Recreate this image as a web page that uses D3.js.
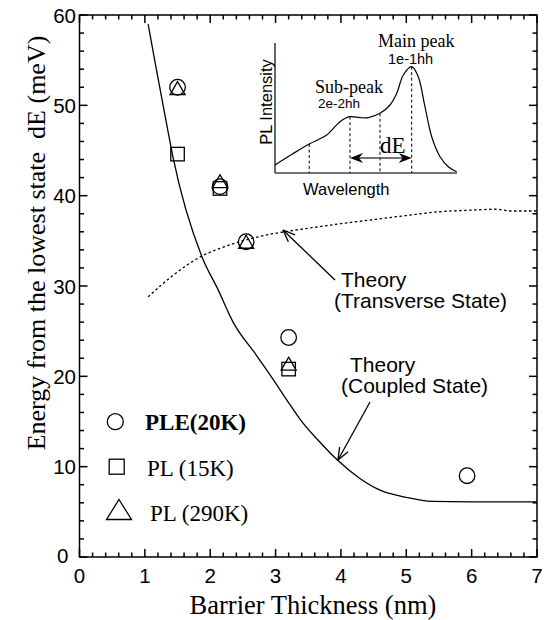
<!DOCTYPE html>
<html><head><meta charset="utf-8">
<script src="https://cdn.jsdelivr.net/npm/d3@7"></script>
<style>body{margin:0;background:#fff}svg{display:block}</style>
</head><body>
<svg id="c" width="547" height="620"></svg>
<script>
// ---- data ----
const xTicks=[0,1,2,3,4,5,6,7];
const yTicks=[0,10,20,30,40,50,60];
const pleX=[1.5,2.15,2.55,3.2,5.93];
const pleY=[52.0,41.0,34.9,24.3,9.0];
const pl15X=[1.5,2.15,3.2];
const pl15Y=[44.6,40.8,20.8];
const pl290X=[1.5,2.15,2.55,3.2];
const pl290Y=[51.9,41.6,34.9,21.4];
const coupledX=[1.05,1.15,1.36,1.43,1.87,2.12,2.35,2.71,2.96,3.17,3.37,3.68,3.95,4.29,4.6,5.0,5.4,6.0,7.0];
const coupledY=[59,55.0,46.9,44.3,33.3,29.6,26.0,22.3,19.7,17.4,15.3,12.7,10.7,8.7,7.4,6.6,6.15,6.1,6.1];
const transX=[1.05,1.4,1.87,2.2,2.5,2.9,3.14,3.6,4.0,4.44,5.0,5.47,6.0,6.38,6.6,7.0];
const transY=[28.8,31.0,33.3,34.3,35.0,35.7,36.0,36.5,36.9,37.3,37.8,38.2,38.4,38.5,38.3,38.3];
// inset spectrum (arbitrary units 0-100)
const specX=[0,10,18.8,28.4,35.7,41.2,46.7,51.3,57.7,63.2,66.9,70.5,75.1,78.7,82.4,86.1,90.7,95.2,99.8];
const specY=[6.2,15,22.3,29.2,39.5,43.3,42.6,42.6,45.9,52.3,61.3,75.4,81.8,74.1,51.0,27.9,12.5,4.8,1];
const markX=[18.8,41.2,57.7,75.1];
const markY=[22.3,43.3,45.9,81.8];
const legendLabels=["PLE(20K)","PL (15K)","PL (290K)"];

const SANS='"Liberation Sans", Arial, sans-serif';
const SERIF='"Liberation Serif", "Times New Roman", serif';
const svg=d3.select("#c");
const L=79.5,R=537,T=15,B=557;
const x=d3.scaleLinear([0,7],[L,R]);
const y=d3.scaleLinear([0,60],[B,T]);
const minorX=d3.range(1,35).filter(i=>i%5!==0).map(i=>i*0.2);
const minorY=d3.range(1,30).filter(i=>i%5!==0).map(i=>i*2);

// frame
svg.append("rect").attr("x",L).attr("y",T).attr("width",R-L).attr("height",B-T).attr("fill","none").attr("stroke","#000").attr("stroke-width",1.5);
// ticks (inward on all four sides), drawn as rects
const tg=svg.append("g").attr("fill","#000");
function xt(vals,len){vals.forEach(v=>{const p=x(v)-0.75;
  tg.append("rect").attr("x",p).attr("y",B-len).attr("width",1.5).attr("height",len);
  tg.append("rect").attr("x",p).attr("y",T).attr("width",1.5).attr("height",len);});}
function yt(vals,len){vals.forEach(v=>{const p=y(v)-0.75;
  tg.append("rect").attr("x",L).attr("y",p).attr("width",len).attr("height",1.5);
  tg.append("rect").attr("x",R-len).attr("y",p).attr("width",len).attr("height",1.5);});}
xt(xTicks,8); xt(minorX,4.5); yt(yTicks,8); yt(minorY,4.5);
// tick labels
svg.append("g").selectAll("text").data(xTicks).join("text").attr("x",d=>x(d)).attr("y",583).attr("text-anchor","middle")
  .attr("font-family",SANS).attr("font-size",20.5).text(d=>d);
svg.append("g").selectAll("text").data(yTicks).join("text")
  .attr("x",d=>d===0?68.5:76).attr("y",d=>d===0?562.5:y(d)+7.5).attr("text-anchor","end")
  .attr("font-family",SANS).attr("font-size",20.5).text(d=>d);

// axis titles
svg.append("text").attr("x",313).attr("y",614).attr("text-anchor","middle").attr("font-family",SERIF).attr("font-size",26.5).text("Barrier Thickness (nm)");
svg.append("text").attr("transform","translate(45,243) rotate(-90)").attr("text-anchor","middle").attr("font-family",SERIF).attr("font-size",26)
  .style("white-space","pre").text("Energy from the lowest state  dE (meV)");

// theory curves
const line=d3.line().x(d=>x(d[0])).y(d=>y(d[1])).curve(d3.curveMonotoneX);
svg.append("path").attr("d",line(d3.zip(coupledX,coupledY))).attr("fill","none").attr("stroke","#000").attr("stroke-width",1.3);
svg.append("path").attr("d",line(d3.zip(transX,transY))).attr("fill","none").attr("stroke","#000").attr("stroke-width",1.3).attr("stroke-dasharray","2.5,2.5");

// markers
function circ(g,cx,cy,r){g.append("circle").attr("cx",cx).attr("cy",cy).attr("r",r).attr("fill","none").attr("stroke","#000").attr("stroke-width",1.3);}
function sq(g,cx,cy,s){g.append("rect").attr("x",cx-s/2).attr("y",cy-s/2).attr("width",s).attr("height",s).attr("fill","none").attr("stroke","#000").attr("stroke-width",1.3);}
function tri(g,cx,cy,w,h){g.append("path").attr("d",`M${cx},${cy-h/2}L${cx+w/2},${cy+h/2}L${cx-w/2},${cy+h/2}Z`).attr("fill","none").attr("stroke","#000").attr("stroke-width",1.3);}
const mk=svg.append("g");
pleX.forEach((v,i)=>circ(mk,x(v),y(pleY[i]),7.8));
pl15X.forEach((v,i)=>sq(mk,x(v),y(pl15Y[i]),13.5));
pl290X.forEach((v,i)=>tri(mk,x(v),y(pl290Y[i]),15,13));

// legend
circ(svg,115.3,421.7,8);
sq(svg,116.7,466.7,15);
tri(svg,119,509.5,25,20);
svg.append("text").attr("x",145).attr("y",430).attr("font-family",SERIF).attr("font-weight","bold").attr("font-size",23).text(legendLabels[0]);
svg.append("text").attr("x",147).attr("y",476).attr("font-family",SERIF).attr("font-size",23).text(legendLabels[1]);
svg.append("text").attr("x",150).attr("y",521).attr("font-family",SERIF).attr("font-size",23).text(legendLabels[2]);

// annotation arrows (open heads)
function openArrow(x1,y1,x2,y2){
  const a=Math.atan2(y2-y1,x2-x1), len=13, sp=0.38;
  svg.append("line").attr("x1",x1).attr("y1",y1).attr("x2",x2).attr("y2",y2).attr("stroke","#000").attr("stroke-width",1.3);
  [a+Math.PI-sp,a+Math.PI+sp].forEach(b=>svg.append("line").attr("x1",x2).attr("y1",y2)
    .attr("x2",x2+len*Math.cos(b)).attr("y2",y2+len*Math.sin(b)).attr("stroke","#000").attr("stroke-width",1.3));
}
openArrow(335,280,283,230);
openArrow(370,402,338,460);
svg.append("text").attr("x",341).attr("y",287).attr("font-family",SANS).attr("font-size",21).text("Theory");
svg.append("text").attr("x",334).attr("y",308).attr("font-family",SANS).attr("font-size",21).text("(Transverse State)");
svg.append("text").attr("x",350).attr("y",372).attr("font-family",SANS).attr("font-size",21).text("Theory");
svg.append("text").attr("x",341).attr("y",393).attr("font-family",SANS).attr("font-size",21).text("(Coupled State)");

// ---- inset ----
const ix=d3.scaleLinear([0,100],[275,457]);
const iy=d3.scaleLinear([0,100],[173,43]);
svg.append("line").attr("x1",ix(0)).attr("y1",iy(100)).attr("x2",ix(0)).attr("y2",iy(0)).attr("stroke","#000").attr("stroke-width",1.2);
svg.append("line").attr("x1",ix(0)).attr("y1",iy(0)).attr("x2",ix(100)).attr("y2",iy(0)).attr("stroke","#444").attr("stroke-width",1.6);
const iline=d3.line().x(d=>ix(d[0])).y(d=>iy(d[1])).curve(d3.curveCatmullRom.alpha(0.5));
svg.append("path").attr("d",iline(d3.zip(specX,specY))).attr("fill","none").attr("stroke","#000").attr("stroke-width",1.2);
markX.forEach((v,i)=>svg.append("line").attr("x1",ix(v)).attr("x2",ix(v)).attr("y1",iy(markY[i])).attr("y2",iy(0))
  .attr("stroke","#000").attr("stroke-width",1).attr("stroke-dasharray","3,2.5"));
// dE double arrow
const ay=158, ax1=ix(markX[1]), ax2=ix(markX[3]);
svg.append("line").attr("x1",ax1+6).attr("x2",ax2-6).attr("y1",ay).attr("y2",ay).attr("stroke","#444").attr("stroke-width",1.5);
function head(tx,dir){svg.append("path").attr("d",`M${tx},${ay}L${tx+dir*13},${ay-5}L${tx+dir*9},${ay}L${tx+dir*13},${ay+5}Z`).attr("fill","#000");}
head(ax1,1); head(ax2,-1);
svg.append("text").attr("x",380).attr("y",153).attr("font-family",SERIF).attr("font-size",23).text("dE");
svg.append("text").attr("x",378).attr("y",47).attr("font-family",SERIF).attr("font-size",18).text("Main peak");
svg.append("text").attr("x",388).attr("y",64).attr("font-family",SANS).attr("font-size",14.5).text("1e-1hh");
svg.append("text").attr("x",315).attr("y",93).attr("font-family",SERIF).attr("font-size",18).text("Sub-peak");
svg.append("text").attr("x",318).attr("y",108).attr("font-family",SANS).attr("font-size",13.5).text("2e-2hh");
svg.append("text").attr("x",303).attr("y",195).attr("font-family",SANS).attr("font-size",16.5).text("Wavelength");
svg.append("text").attr("transform","translate(272,102) rotate(-90)").attr("text-anchor","middle").attr("font-family",SANS).attr("font-size",16.5).text("PL Intensity");
</script>
</body></html>
